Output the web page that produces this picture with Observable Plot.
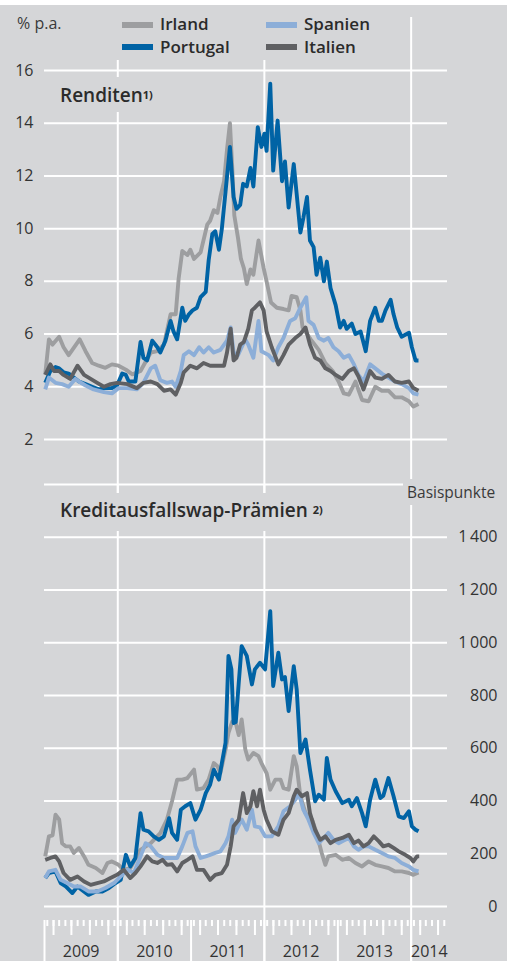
<!DOCTYPE html>
<html lang="de"><head><meta charset="utf-8">
<script src="https://cdn.jsdelivr.net/npm/d3@7"></script>
<script src="https://cdn.jsdelivr.net/npm/@observablehq/plot@0.6"></script>
<style>
html,body{margin:0;padding:0;background:#fff;}
#chart{position:relative;width:507px;height:961px;background:#d5d6d8;overflow:hidden;font-family:"Open Sans",sans-serif;color:#2e2e2e;}
#chart > svg{position:absolute;left:0;top:0;}
.box{position:absolute;background:#d5d6d8;}
.txt{position:absolute;white-space:nowrap;}
.sw{position:absolute;width:31px;height:6px;}
.lg{font-size:17px;line-height:17px;font-weight:600;color:#2b2b2b;}
.ttl{font-size:19px;line-height:19px;font-weight:600;color:#2b2b2b;}
.ttl sup{font-size:11px;font-weight:700;vertical-align:top;position:relative;top:-1px;}
.unit{font-size:16px;line-height:16px;color:#3a3a3a;}
.unit2{font-size:15.5px;line-height:15.5px;color:#3a3a3a;}
</style></head><body><div id="chart"></div>
<script>
// ---------- data (decimal year, value) ----------
const series = ["Irland", "Portugal", "Spanien", "Italien"];
const colors = ["#9d9ea0", "#0063a5", "#8caed8", "#5f6063"];

const yieldIrland = [[2009.01,4.47],[2009.06,5.8],[2009.11,5.6],[2009.20,5.9],[2009.26,5.5],[2009.33,5.2],[2009.38,5.4],[2009.48,5.8],[2009.56,5.35],[2009.65,4.9],[2009.74,4.8],[2009.83,4.72],[2009.92,4.85],[2010.01,4.8],[2010.11,4.65],[2010.20,4.47],[2010.31,4.6],[2010.45,5.3],[2010.54,5.35],[2010.63,5.6],[2010.72,6.75],[2010.79,6.75],[2010.83,8.1],[2010.88,9.15],[2010.95,9.0],[2010.99,9.2],[2011.04,8.85],[2011.13,9.1],[2011.22,10.15],[2011.26,10.3],[2011.31,10.7],[2011.36,10.6],[2011.40,11.2],[2011.45,11.8],[2011.49,13.0],[2011.53,14.0],[2011.56,12.4],[2011.59,10.5],[2011.64,9.65],[2011.68,8.85],[2011.72,8.5],[2011.76,7.9],[2011.81,8.45],[2011.85,8.25],[2011.92,9.55],[2011.99,8.5],[2012.03,8.0],[2012.09,7.2],[2012.17,7.0],[2012.26,6.95],[2012.33,6.9],[2012.37,7.45],[2012.44,7.4],[2012.49,6.9],[2012.52,6.25],[2012.63,5.8],[2012.74,5.4],[2012.83,4.9],[2012.93,4.6],[2013.01,4.2],[2013.08,3.75],[2013.15,3.7],[2013.24,4.2],[2013.33,3.5],[2013.42,3.45],[2013.51,4.0],[2013.60,3.85],[2013.69,3.85],[2013.78,3.6],[2013.87,3.6],[2013.97,3.45],[2014.03,3.25],[2014.10,3.35]];
const yieldPortugal = [[2009.01,4.15],[2009.08,4.6],[2009.15,4.75],[2009.20,4.7],[2009.26,4.55],[2009.33,4.5],[2009.40,4.35],[2009.47,4.2],[2009.56,4.1],[2009.65,4.0],[2009.74,3.9],[2009.83,3.95],[2009.92,3.95],[2009.99,4.05],[2010.06,4.5],[2010.11,4.45],[2010.15,4.2],[2010.24,4.2],[2010.31,5.7],[2010.35,5.1],[2010.40,5.0],[2010.47,5.75],[2010.54,5.5],[2010.58,5.3],[2010.65,5.75],[2010.72,6.5],[2010.76,6.1],[2010.81,5.8],[2010.88,7.0],[2010.92,6.5],[2010.97,6.75],[2011.02,6.9],[2011.08,7.0],[2011.13,7.4],[2011.20,7.6],[2011.24,8.8],[2011.29,9.8],[2011.33,9.9],[2011.38,9.2],[2011.42,10.0],[2011.47,11.4],[2011.53,13.1],[2011.58,11.2],[2011.62,10.75],[2011.67,10.9],[2011.71,11.7],[2011.76,11.6],[2011.81,12.3],[2011.85,11.6],[2011.91,13.85],[2011.96,13.1],[2012.00,13.6],[2012.03,12.95],[2012.08,15.5],[2012.12,12.2],[2012.18,14.1],[2012.24,11.8],[2012.28,12.55],[2012.33,10.8],[2012.40,12.45],[2012.44,11.3],[2012.49,9.85],[2012.53,10.4],[2012.58,11.2],[2012.62,9.55],[2012.67,9.3],[2012.71,8.25],[2012.76,8.9],[2012.81,8.0],[2012.85,8.75],[2012.90,7.75],[2012.97,7.1],[2013.03,6.25],[2013.08,6.5],[2013.12,6.2],[2013.19,6.4],[2013.24,6.0],[2013.31,6.1],[2013.38,5.35],[2013.44,6.5],[2013.51,7.0],[2013.56,6.5],[2013.60,6.5],[2013.65,6.9],[2013.72,7.3],[2013.76,6.75],[2013.81,6.25],[2013.87,5.9],[2013.97,6.05],[2014.01,5.5],[2014.06,5.0],[2014.10,5.0]];
const yieldSpanien = [[2009.01,3.9],[2009.06,4.35],[2009.15,4.15],[2009.24,4.1],[2009.33,4.0],[2009.42,4.3],[2009.47,4.2],[2009.56,4.05],[2009.67,3.9],[2009.81,3.8],[2009.92,3.75],[2010.01,3.95],[2010.13,3.95],[2010.26,3.9],[2010.35,4.15],[2010.45,4.7],[2010.51,4.8],[2010.58,4.25],[2010.67,4.15],[2010.74,4.2],[2010.79,4.0],[2010.86,4.6],[2010.90,5.2],[2010.97,5.35],[2011.04,5.2],[2011.11,5.5],[2011.17,5.3],[2011.24,5.5],[2011.31,5.3],[2011.40,5.4],[2011.49,5.75],[2011.54,6.25],[2011.58,5.3],[2011.64,5.2],[2011.69,5.5],[2011.74,5.8],[2011.78,5.6],[2011.85,5.1],[2011.92,6.5],[2011.96,5.35],[2012.06,5.2],[2012.12,5.0],[2012.19,5.5],[2012.26,5.85],[2012.35,6.5],[2012.42,6.6],[2012.49,7.0],[2012.57,7.4],[2012.60,6.5],[2012.67,6.35],[2012.74,5.85],[2012.81,5.75],[2012.87,5.85],[2012.94,5.5],[2013.01,5.35],[2013.08,5.1],[2013.15,5.2],[2013.22,4.85],[2013.28,4.45],[2013.35,4.2],[2013.44,4.85],[2013.51,4.7],[2013.60,4.5],[2013.69,4.35],[2013.78,4.2],[2013.87,4.1],[2013.97,3.95],[2014.03,3.75],[2014.10,3.7]];
const yieldItalien = [[2009.01,4.45],[2009.08,4.85],[2009.13,4.6],[2009.20,4.6],[2009.26,4.45],[2009.35,4.3],[2009.45,4.8],[2009.54,4.45],[2009.63,4.3],[2009.72,4.15],[2009.81,4.0],[2009.90,4.1],[2009.99,4.15],[2010.13,4.1],[2010.26,3.95],[2010.35,4.15],[2010.45,4.2],[2010.54,4.1],[2010.63,3.85],[2010.72,3.9],[2010.79,3.7],[2010.86,4.15],[2010.90,4.55],[2010.99,4.8],[2011.08,4.7],[2011.17,4.9],[2011.26,4.8],[2011.36,4.8],[2011.45,4.8],[2011.49,5.3],[2011.54,6.2],[2011.58,5.0],[2011.62,5.1],[2011.67,5.6],[2011.72,5.7],[2011.78,6.2],[2011.83,6.9],[2011.87,7.0],[2011.94,7.2],[2011.99,6.9],[2012.03,6.1],[2012.10,5.5],[2012.19,4.85],[2012.26,5.2],[2012.33,5.6],[2012.42,5.85],[2012.49,6.0],[2012.56,6.25],[2012.62,5.6],[2012.69,5.1],[2012.76,5.0],[2012.83,4.7],[2012.90,4.6],[2012.97,4.45],[2013.06,4.3],[2013.15,4.6],[2013.22,4.7],[2013.28,4.4],[2013.35,3.9],[2013.44,4.6],[2013.51,4.35],[2013.60,4.3],[2013.69,4.45],[2013.78,4.2],[2013.87,4.15],[2013.97,4.2],[2014.03,3.95],[2014.10,3.85]];

const cdsIrland = [[2009.01,190],[2009.06,266],[2009.11,270],[2009.15,348],[2009.20,330],[2009.24,240],[2009.29,228],[2009.35,228],[2009.40,203],[2009.47,222],[2009.54,190],[2009.60,158],[2009.70,146],[2009.79,127],[2009.86,165],[2009.92,171],[2010.01,158],[2010.08,139],[2010.17,145],[2010.31,215],[2010.45,240],[2010.58,278],[2010.67,329],[2010.74,399],[2010.81,481],[2010.88,481],[2010.95,487],[2011.04,519],[2011.08,443],[2011.17,449],[2011.24,481],[2011.31,544],[2011.36,532],[2011.40,506],[2011.47,595],[2011.51,658],[2011.56,700],[2011.61,695],[2011.65,650],[2011.69,709],[2011.74,595],[2011.78,557],[2011.85,582],[2011.92,570],[2011.96,544],[2012.03,506],[2012.08,443],[2012.15,481],[2012.22,481],[2012.26,449],[2012.33,443],[2012.40,570],[2012.44,532],[2012.49,418],[2012.56,354],[2012.65,329],[2012.71,279],[2012.78,203],[2012.83,158],[2012.87,190],[2012.97,196],[2013.06,177],[2013.15,184],[2013.24,165],[2013.33,152],[2013.42,171],[2013.51,158],[2013.60,152],[2013.69,146],[2013.78,133],[2013.87,133],[2013.97,127],[2014.03,120],[2014.10,129]];
const cdsPortugal = [[2009.01,108],[2009.06,127],[2009.15,133],[2009.22,89],[2009.29,76],[2009.38,51],[2009.45,76],[2009.51,63],[2009.60,44],[2009.70,57],[2009.79,57],[2009.88,70],[2009.97,89],[2010.04,101],[2010.11,196],[2010.17,152],[2010.24,184],[2010.31,354],[2010.35,291],[2010.42,285],[2010.49,266],[2010.56,253],[2010.63,266],[2010.70,335],[2010.74,279],[2010.81,253],[2010.86,367],[2010.92,380],[2010.99,392],[2011.06,329],[2011.13,367],[2011.20,430],[2011.26,462],[2011.31,519],[2011.38,481],[2011.42,544],[2011.47,620],[2011.51,950],[2011.55,900],[2011.58,696],[2011.61,700],[2011.65,847],[2011.69,987],[2011.76,950],[2011.83,842],[2011.87,899],[2011.94,924],[2012.01,899],[2012.08,1120],[2012.12,836],[2012.19,962],[2012.24,861],[2012.28,870],[2012.33,741],[2012.40,911],[2012.44,823],[2012.49,582],[2012.56,633],[2012.62,519],[2012.69,399],[2012.74,424],[2012.81,405],[2012.85,563],[2012.90,481],[2012.97,437],[2013.06,392],[2013.15,405],[2013.19,380],[2013.26,411],[2013.33,354],[2013.38,304],[2013.44,405],[2013.51,481],[2013.58,411],[2013.62,420],[2013.69,487],[2013.76,418],[2013.83,342],[2013.90,335],[2013.97,361],[2014.01,304],[2014.06,291],[2014.10,285]];
const cdsSpanien = [[2009.01,108],[2009.06,133],[2009.15,139],[2009.22,101],[2009.31,89],[2009.40,76],[2009.49,76],[2009.60,57],[2009.72,57],[2009.83,70],[2009.95,89],[2010.04,114],[2010.13,139],[2010.22,127],[2010.31,190],[2010.38,240],[2010.45,228],[2010.54,196],[2010.63,184],[2010.72,184],[2010.81,184],[2010.88,228],[2010.95,279],[2011.02,285],[2011.06,228],[2011.13,184],[2011.20,190],[2011.26,196],[2011.33,203],[2011.40,209],[2011.47,240],[2011.51,266],[2011.56,329],[2011.60,279],[2011.69,330],[2011.76,291],[2011.83,367],[2011.87,304],[2011.94,300],[2012.01,266],[2012.10,266],[2012.19,304],[2012.26,361],[2012.35,380],[2012.42,405],[2012.47,430],[2012.53,367],[2012.60,329],[2012.67,279],[2012.74,240],[2012.81,260],[2012.87,279],[2012.94,253],[2013.01,240],[2013.08,250],[2013.15,260],[2013.22,228],[2013.28,215],[2013.35,228],[2013.42,228],[2013.51,215],[2013.60,203],[2013.69,190],[2013.78,184],[2013.87,165],[2013.97,152],[2014.03,139],[2014.10,133]];
const cdsItalien = [[2009.01,177],[2009.08,184],[2009.15,190],[2009.20,171],[2009.26,127],[2009.35,101],[2009.45,114],[2009.54,95],[2009.63,82],[2009.72,89],[2009.81,95],[2009.90,108],[2009.99,120],[2010.08,139],[2010.17,108],[2010.24,127],[2010.31,152],[2010.40,190],[2010.47,171],[2010.54,165],[2010.61,177],[2010.67,158],[2010.74,160],[2010.81,133],[2010.88,165],[2010.95,177],[2011.02,190],[2011.08,139],[2011.17,139],[2011.26,101],[2011.33,120],[2011.42,127],[2011.49,158],[2011.54,228],[2011.58,304],[2011.65,329],[2011.71,430],[2011.76,354],[2011.81,380],[2011.85,437],[2011.90,380],[2011.94,443],[2011.99,367],[2012.03,329],[2012.10,285],[2012.19,272],[2012.26,329],[2012.33,354],[2012.40,418],[2012.44,443],[2012.51,418],[2012.58,430],[2012.62,354],[2012.69,291],[2012.76,253],[2012.83,266],[2012.90,240],[2012.97,253],[2013.06,260],[2013.15,272],[2013.22,240],[2013.28,250],[2013.35,228],[2013.42,240],[2013.49,266],[2013.56,247],[2013.62,228],[2013.69,234],[2013.76,222],[2013.83,209],[2013.92,196],[2013.99,184],[2014.03,171],[2014.08,190],[2014.11,190]];

// ---------- ticks / labels ----------
const yTicksTop = [2, 4, 6, 8, 10, 12, 14, 16];
const yTicksBottom = [0, 200, 400, 600, 800, 1000, 1200, 1400];
const yGridBottom = [0, 200, 400, 600, 800, 1000, 1200, 1400, 1600];
const yearLabels = [2009, 2010, 2011, 2012, 2013, 2014];
const gridYears = [2010, 2012, 2014];
const xStart = [2009, 0, 1], xEnd = [2014, 6, 1];

// ---------- helpers ----------
const toDate = t => { const y = Math.floor(t), s = Date.UTC(y, 0, 1), e = Date.UTC(y + 1, 0, 1); return new Date(s + (t - y) * (e - s)); };
const xDomain = [new Date(Date.UTC(xStart[0], xStart[1], xStart[2])), new Date(Date.UTC(xEnd[0], xEnd[1], xEnd[2]))];
const gridDates = gridYears.map(y => new Date(Date.UTC(y, 0, 1)));
const yearStarts = yearLabels.map(y => new Date(Date.UTC(y, 0, 1)));
const yearMids = yearLabels.map(y => {
  const a = Math.max(+xDomain[0], Date.UTC(y, 0, 1)), b = Math.min(+xDomain[1], Date.UTC(y + 1, 0, 1));
  return {x: new Date((a + b) / 2), label: String(y)};
});
const midMonths = d3.utcMonth.range(xDomain[0], xDomain[1]).map(d => d3.utcDay.offset(d, 14));
const quarterMids = midMonths.filter(d => d.getUTCMonth() % 3 === 1);
const fmtBp = d => d >= 1000 ? Math.floor(d / 1000) + "\u2009" + String(d % 1000).padStart(3, "0") : String(d);

const toRows = (arr, name) => arr.map(([t, v]) => ({date: toDate(t), value: v, name}));
const topData = [yieldIrland, yieldPortugal, yieldSpanien, yieldItalien].map((a, i) => toRows(a, series[i]));
const botData = [cdsIrland, cdsPortugal, cdsSpanien, cdsItalien].map((a, i) => toRows(a, series[i]));

const W = 507, H = 961, LW = 3.9;
const common = {width: W, height: H, marginLeft: 44, marginRight: 60,
  style: {background: "transparent", fontFamily: "'Open Sans', sans-serif", overflow: "visible"}};
const lineMarks = data => data.map((d, i) => Plot.line(d, {x: "date", y: "value", stroke: colors[i], strokeWidth: LW, strokeLinejoin: "round", strokeLinecap: "butt"}));

const topPlot = Plot.plot({
  ...common, marginTop: 70, marginBottom: 522,
  x: {type: "utc", domain: xDomain, axis: null},
  y: {domain: [2, 16], axis: null},
  marks: [
    Plot.ruleY(yTicksTop, {stroke: "#fff", strokeWidth: 2}),
    Plot.ruleX(gridDates, {stroke: "#fff", strokeWidth: 2, insetTop: -53, insetBottom: -54}),
    Plot.text(yTicksTop, {y: d => d, text: d => String(d), frameAnchor: "left", dx: -11, textAnchor: "end", fontSize: 16, fill: "#333"}),
    ...lineMarks(topData)
  ]
});

const bottomPlot = Plot.plot({
  ...common, marginTop: 484, marginBottom: 55,
  x: {type: "utc", domain: xDomain, axis: null},
  y: {domain: [0, 1600], axis: null},
  marks: [
    Plot.ruleY(yGridBottom, {stroke: "#fff", strokeWidth: 2}),
    Plot.ruleX(gridDates, {stroke: "#fff", strokeWidth: 2, insetBottom: -55}),
    Plot.ruleX(yearStarts, {stroke: "#fff", strokeWidth: 2, insetTop: 436, insetBottom: -55}),
    Plot.ruleX(midMonths, {stroke: "#fff", strokeWidth: 2, insetTop: 436, insetBottom: -20}),
    Plot.ruleX(quarterMids, {stroke: "#fff", strokeWidth: 2, insetTop: 436, insetBottom: -29}),
    Plot.text(yearMids, {x: "x", text: "label", frameAnchor: "bottom", dy: 45, lineAnchor: "middle", fontSize: 16, fill: "#333"}),
    Plot.text(yTicksBottom, {y: d => d, text: fmtBp, frameAnchor: "right", dx: 50, textAnchor: "end", fontSize: 16, fill: "#333"}),
    ...lineMarks(botData)
  ]
});

const chart = document.getElementById("chart");
chart.append(topPlot, bottomPlot);

// ---------- overlays: label boxes, legend, titles ----------
function el(cls, css, html) {
  const d = document.createElement("div");
  d.className = cls; d.style.cssText = css; if (html != null) d.innerHTML = html;
  chart.append(d); return d;
}
el("box", "left:0;top:0;width:375px;height:60px;");
el("box", "left:0;top:0;width:507px;height:5px;background:#fff;");
el("box", "left:55px;top:77px;width:102px;height:35px;");
el("box", "left:55px;top:493px;width:285px;height:38px;");
el("box", "left:403px;top:479px;width:104px;height:26px;");

el("txt unit", "left:17px;top:15.1px;", "% p.a.");
el("txt unit2", "left:407px;top:484.5px;", "Basispunkte");
el("txt ttl", "left:60px;top:86.4px;", "Renditen<sup>1)</sup>");
el("txt ttl", "left:60px;top:501.4px;", "Kreditausfallswap-Prämien <sup>2)</sup>");

const legendSlots = [[122, 0], [122, 1], [266, 0], [266, 1]];
series.forEach((name, i) => {
  const [lx, row] = legendSlots[i];
  const base = row === 0 ? 30 : 52.7;
  el("sw", `left:${lx}px;top:${base - 8.5}px;background:${colors[i]};`);
  el("txt lg", `left:${lx + 38}px;top:${base - 15.1}px;`, name);
});
</script></body></html>
